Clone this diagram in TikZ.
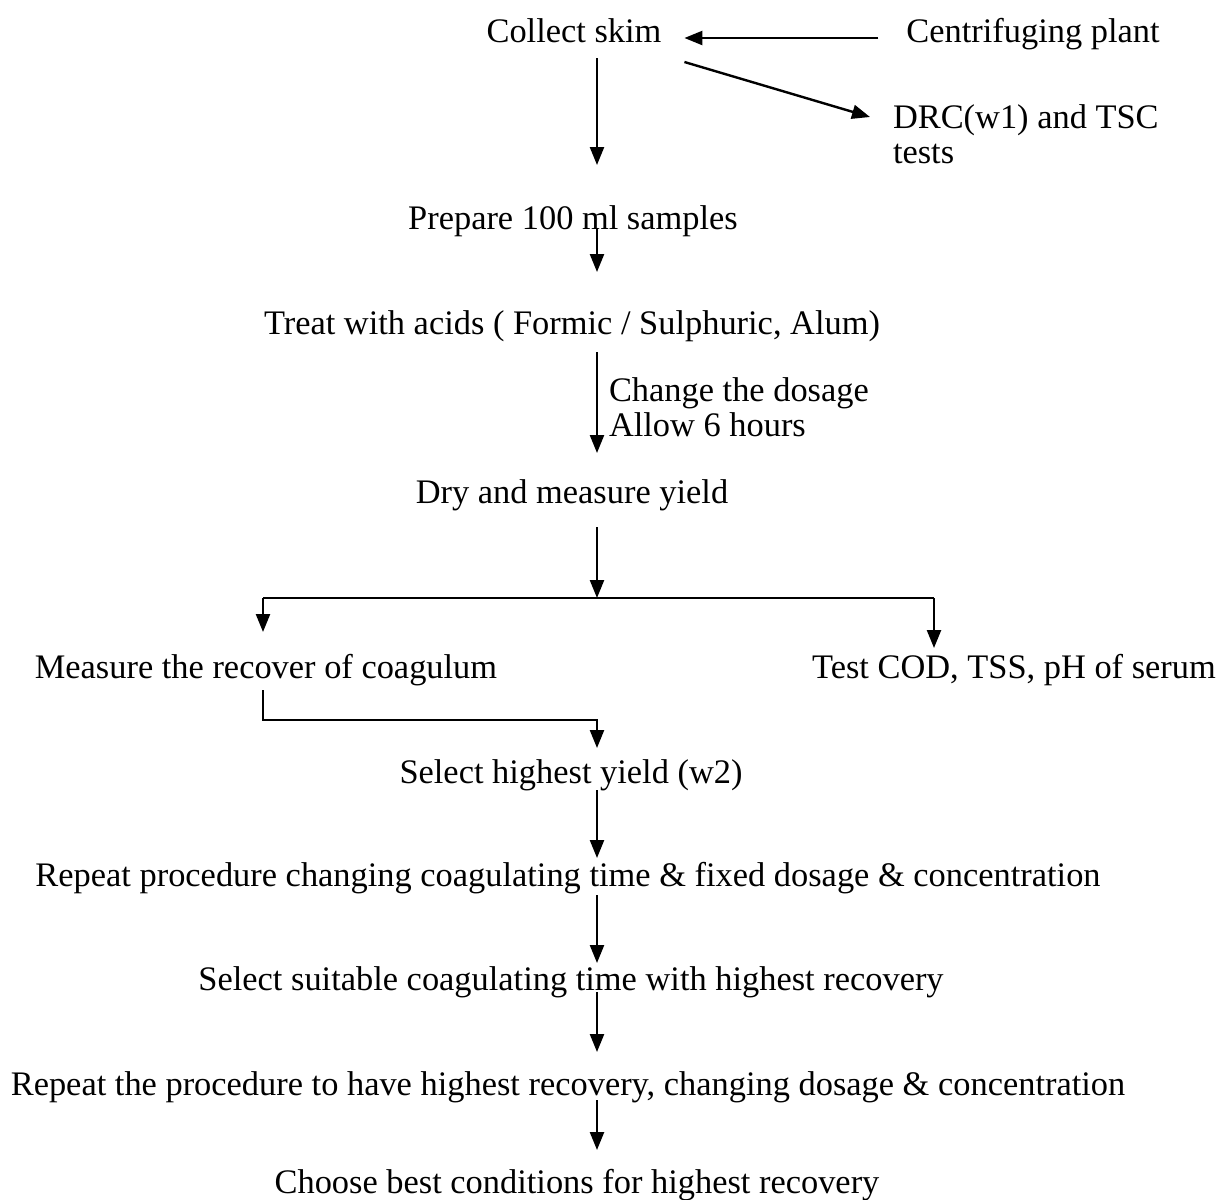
\documentclass[tikz,border=0pt]{standalone}
\usepackage{fontspec}
\setmainfont{Liberation Serif}
\usetikzlibrary{arrows.meta,calc}
\tikzset{
  stage/.style={
    font=\fontsize{17.2}{17.5}\selectfont,
    inner sep=0pt,
    outer sep=0pt,
    text height=12pt,
    text depth=3.5pt,
    anchor=base
  },
  note/.style={
    font=\fontsize{17.2}{17.5}\selectfont,
    inner sep=0pt,
    outer sep=0pt,
    align=left,
    anchor=north west
  },
  flow/.style={
    line width=1.2pt,
    -{Triangle[length=9pt,width=7pt]}
  }
}

\begin{document}
\begin{tikzpicture}[x=0.5pt,y=-0.5pt]
    \useasboundingbox (0,0) rectangle (1217,1200);
    % main line and split points
    \coordinate (spine) at (597,0);
    \coordinate (fork) at (597,598);
    \coordinate (forkL) at (263,598);
    \coordinate (forkR) at (934,598);
    \coordinate (join) at (597,720);

    \node[stage] (skim) at (574,42) {Collect skim};
    \node[stage] (plant) at (1033,42) {Centrifuging plant};
    \node[note] (drc) at (893,105) {DRC(w1) and TSC\\tests};
    \node[stage] (prep) at (573,229) {Prepare 100 ml samples};
    \node[stage] (treat) at (572,334) {Treat with acids ( Formic / Sulphuric, Alum)};
    \node[note] (dose) at (609,378) {Change the dosage\\Allow 6 hours};
    \node[stage] (dry) at (572,503) {Dry and measure yield};
    \node[stage] (recov) at (266,678) {Measure the recover of coagulum};
    \node[stage] (test) at (1014,678) {Test COD, TSS, pH of serum};
    \node[stage] (sel) at (571,783) {Select highest yield (w2)};
    \node[stage] (rep1) at (568,886) {Repeat procedure changing coagulating time \& fixed dosage \& concentration};
    \node[stage] (suit) at (571,990) {Select suitable coagulating time with highest recovery};
    \node[stage] (rep2) at (568,1095) {Repeat the procedure to have highest recovery, changing dosage \& concentration};
    \node[stage] (best) at (577,1193) {Choose best conditions for highest recovery};

    % top
    \draw[flow] ($(plant.base west)+(-28,-4)$) -- ($(skim.base east)+(23,-4)$);
    \draw[flow] ($(skim.south east)+(23,13)$) -- ($(drc.north west)+(-23,12)$);
    \draw[flow] ($(skim.south -| spine)+(0,9)$) -- ($(prep.north -| spine)+(0,-40)$);
    \draw[flow] ($(prep.south -| spine)+(0,-8)$) -- ($(treat.north -| spine)+(0,-38)$);
    \draw[flow] ($(treat.south -| spine)+(0,11)$) -- ($(dry.north -| spine)+(0,-26)$);

    % split
    \draw[flow] ($(dry.south -| spine)+(0,17)$) -- (fork);
    \draw[line width=1.2pt] (forkL) -- (forkR);
    \draw[flow] (forkL) -- ($(recov.north -| forkL)+(0,-22)$);
    \draw[flow] (forkR) -- ($(test.north -| forkR)+(0,-6)$);
    \draw[flow] ($(recov.south -| forkL)+(0,5)$) |- (join) -- ($(sel.north -| spine)+(0,-11)$);

    % bottom
    \draw[flow] (sel.south -| spine) -- ($(rep1.north -| spine)+(0,-4)$);
    \draw[flow] ($(rep1.south -| spine)+(0,2)$) -- ($(suit.north -| spine)+(0,-3)$);
    \draw[flow] ($(suit.south -| spine)+(0,-5)$) -- ($(rep2.north -| spine)+(0,-19)$);
    \draw[flow] ($(rep2.south -| spine)+(0,-2)$) -- ($(best.north -| spine)+(0,-19)$);
\end{tikzpicture}
\end{document}
